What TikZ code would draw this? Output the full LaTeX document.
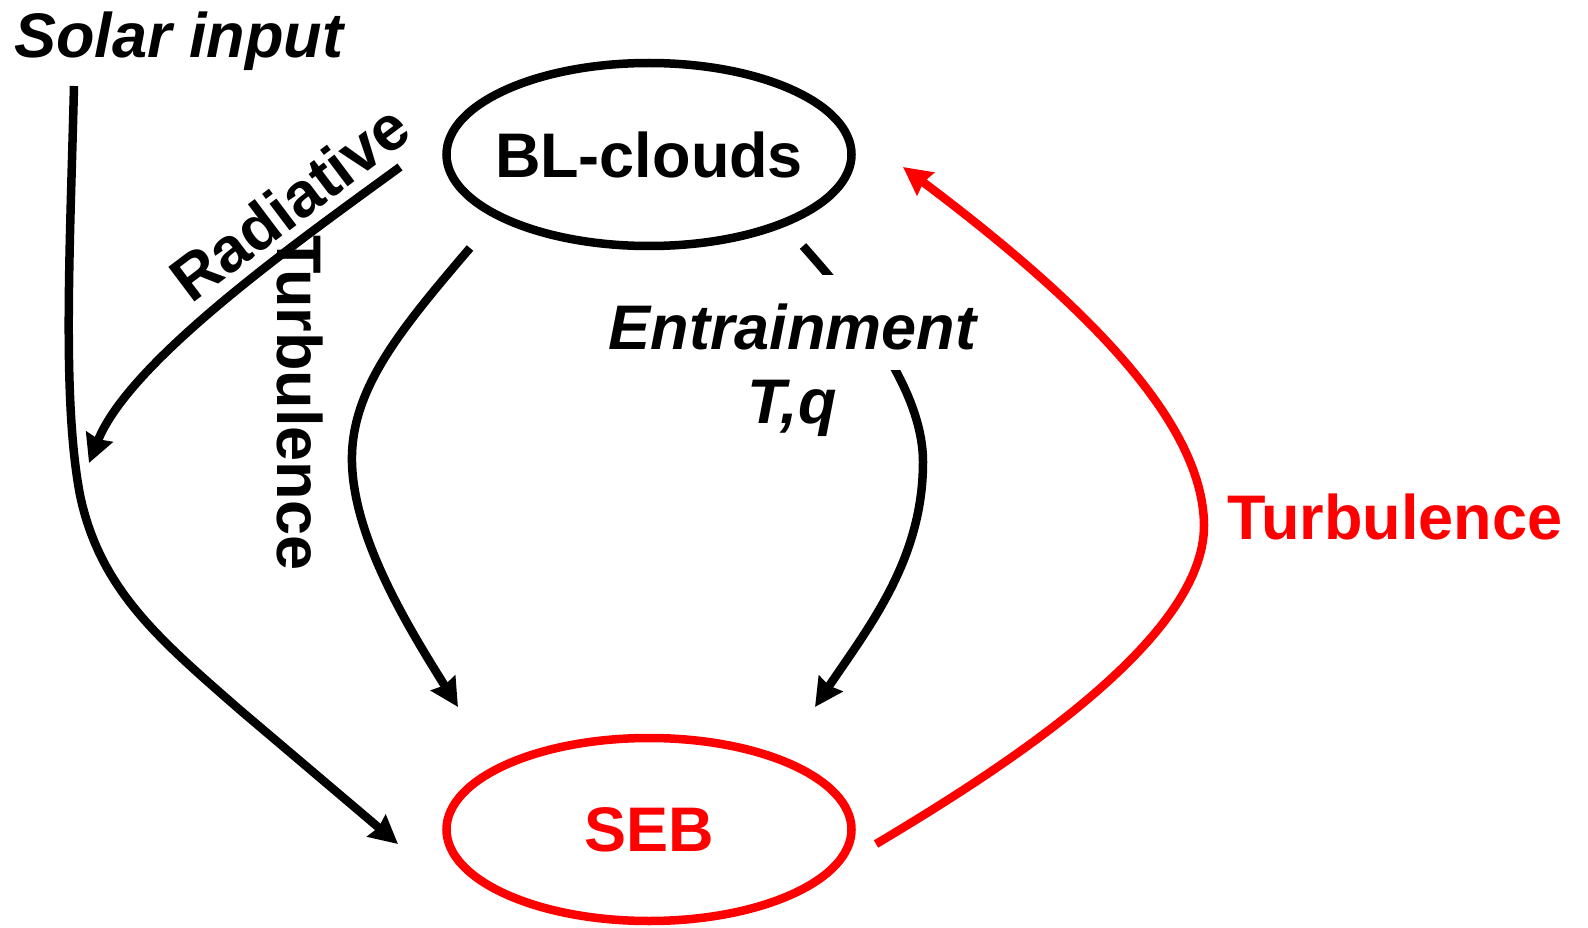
\documentclass[tikz,border=0pt]{standalone}
\usepackage{fontspec}
\setmainfont{Liberation Sans}
\usetikzlibrary{arrows.meta,shapes.geometric}
\begin{document}
\begin{tikzpicture}[x=1pt,y=-1pt,
  lbl/.style={font=\fontsize{63}{75}\selectfont\bfseries, inner sep=0pt},
  ilbl/.style={inner sep=0pt, font=\fontsize{63}{75}\selectfont\bfseries\itshape},
  oval/.style={draw, ellipse, line width=8.5pt, minimum width=405pt, minimum height=183pt, inner sep=0pt},
  flow/.style={line width=8.5pt, -{Stealth[length=28pt,width=28pt,inset=2.5pt]}}]
\useasboundingbox (0,0) rectangle (1588,928);

% main nodes
\node[oval, label={[lbl]center:BL-clouds}] (bl) at (649,154.5) {};
\node[oval, draw=red, label={[lbl, text=red]center:SEB}] (seb) at (649,829.5) {};

% labels
\node[ilbl, anchor=base west] (solar) at (14,58) {Solar input};
\node[lbl, rotate=37, anchor=base west] (rad) at (191,305) {Radiative};
\node[lbl, rotate=-90, anchor=base west] (turbL) at (277,235) {Turbulence};
\node[lbl, text=red, anchor=base] (turbR) at (1395,539) {Turbulence};

% connector end points
\coordinate (sA) at (74,86);
\coordinate (sB) at (398,844);
\coordinate (rA) at (400,167);
\coordinate (rB) at (89,463);
\coordinate (lA) at (470,248);
\coordinate (lB) at (458,707);
\coordinate (eA) at (803,246);
\coordinate (eB) at (815,707);
\coordinate (tA) at (876,844);
\coordinate (tB) at (903,167);

% connectors
\draw[flow] (sA) .. controls (70,250) and (62,400) .. (80,495)
  .. controls (100,590) and (160,640) .. (240,710) -- (sB);
\draw[flow] (rA) .. controls (300,240) and (130,360) .. (rB);
\draw[flow] (lA) .. controls (400,330) and (350,390) .. (352,463)
  .. controls (354,540) and (410,630) .. (lB);
\draw[flow] (eA) .. controls (860,310) and (923,390) .. (923,462)
  .. controls (923,560) and (868,628) .. (eB);
\draw[flow, red] (tA) .. controls (1000,770) and (1205,640) .. (1204,525)
  .. controls (1203,420) and (1080,300) .. (tB);

% entrainment label masks the middle of its connector
\node[ilbl, anchor=base, fill=white, text height=74pt, text depth=21pt, inner xsep=4pt] (ent) at (792.5,349) {Entrainment};
\node[ilbl, anchor=base] (tq) at (792,423) {T,q};
\end{tikzpicture}
\end{document}
